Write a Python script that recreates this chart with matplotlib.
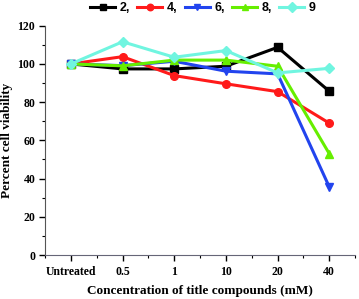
import matplotlib
matplotlib.use("Agg")
import matplotlib.pyplot as plt
from matplotlib.ticker import MultipleLocator, FixedLocator

categories = ["Untreated", "0.5", "1", "10", "20", "40"]
s2 = [100, 97.4, 97.4, 98.8, 108.7, 85.7]
s4 = [100, 103.8, 93.9, 89.6, 85.5, 69.0]
s6 = [100, 99.1, 101.4, 96.2, 94.8, 35.6]
s8 = [100, 99.0, 102.0, 102.0, 98.8, 53.0]
s9 = [100, 111.6, 103.5, 107.0, 95.3, 97.7]
labels = ["2,", "4,", "6,", "8,", "9"]

fig = plt.figure(figsize=(3.59, 2.99), dpi=100)
ax = fig.add_axes([0.1253, 0.147, 0.864, 0.767])
x = list(range(len(categories)))
styles = [
    (s2, "#000000", "s"),
    (s4, "#ff1a1a", "o"),
    (s6, "#2244ee", "v"),
    (s8, "#66ee00", "^"),
    (s9, "#70f5e0", "D"),
]
for (vals, c, m), lab in zip(styles, labels):
    ax.plot(x, vals, color=c, marker=m, markersize=5.5, linewidth=2.2,
            markeredgecolor=c, label=lab)

ax.set_xlim(-0.5, 5.5)
ax.set_ylim(0, 120)
ax.set_xticks(x)
ax.set_xticklabels(categories)
ax.xaxis.set_minor_locator(FixedLocator([i + 0.5 for i in range(-1, 6)]))
ax.yaxis.set_major_locator(MultipleLocator(20))
ax.yaxis.set_minor_locator(MultipleLocator(10))
for s in ["top", "right"]:
    ax.spines[s].set_visible(False)
ax.spines["left"].set_color("#555555")
ax.spines["bottom"].set_color("#666677")
ax.tick_params(which="major", length=4, width=1, direction="out")
ax.tick_params(axis="x", which="major", pad=4)
ax.tick_params(axis="y", which="major", pad=3)
ax.tick_params(which="minor", length=2.5, width=0.8, direction="out")
for t in ax.get_xticklabels() + ax.get_yticklabels():
    t.set_fontfamily("Liberation Serif")
    t.set_fontweight("bold")
    t.set_fontsize(8.5)
ax.set_xlabel("Concentration of title compounds (mM)", fontfamily="Liberation Serif",
              fontweight="bold", fontsize=9.5, labelpad=5)
ax.set_ylabel("Percent cell viability", fontfamily="Liberation Serif",
              fontweight="bold", fontsize=9.5, labelpad=3)
leg = fig.legend(loc="upper center", bbox_to_anchor=(0.565, 1.03), ncol=5, frameon=False,
                 prop={"family": "Liberation Sans", "weight": "bold", "size": 9},
                 handlelength=2.0, columnspacing=0.6, handletextpad=0.35,
                 markerscale=0.85)
fig.savefig("out.png", dpi=100)
